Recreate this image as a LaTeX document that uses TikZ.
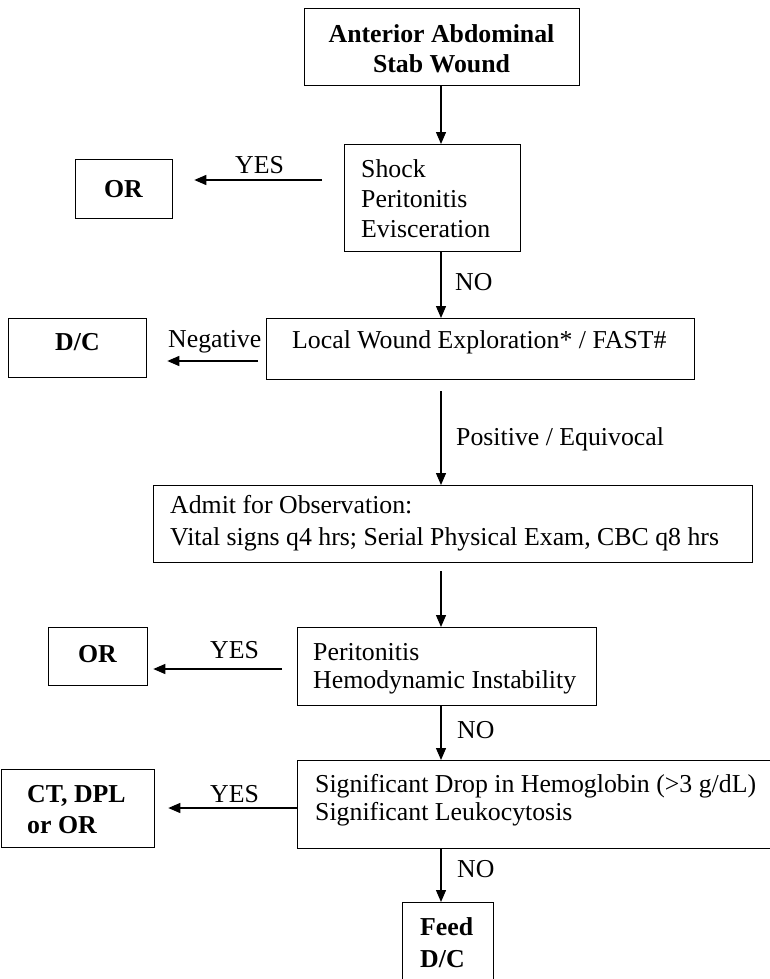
\documentclass[tikz,border=0pt]{standalone}
\usepackage{fontspec}
\setmainfont{Liberation Serif}
\usetikzlibrary{arrows.meta}
% font size with a chosen line spacing
\newcommand\fz[1]{\fontsize{25.8}{#1}\selectfont}
\begin{document}
\begin{tikzpicture}[x=1pt,y=-1pt,
  box/.style={draw, line width=1.3pt, rectangle, inner sep=0pt, anchor=north west},
  arr/.style={line width=1.3pt, -{Triangle[length=12pt,width=10pt]}},
  lab/.style={inner sep=0pt, anchor=base west, font={\fz{30}}},
  blab/.style={lab, font={\fz{30}\bfseries}},
  ml/.style={inner sep=0pt, anchor=north west, align=left, font={\fz{30}}},
]
\useasboundingbox (0,0) rectangle (770,979);
\fill[white] (0,0) rectangle (770,979);
\clip (0,0) rectangle (770,979);

% boxes
\node[box, minimum width=275pt, minimum height=77pt]  (start)  at (304,8)   {};
\node[box, minimum width=176pt, minimum height=107pt] (shock)  at (344,144) {};
\node[box, minimum width=97pt,  minimum height=59pt]  (or1)    at (75,159)  {};
\node[box, minimum width=138pt, minimum height=59pt]  (dc)     at (8,318)   {};
\node[box, minimum width=428pt, minimum height=61pt]  (local)  at (266,318) {};
\node[box, minimum width=599pt, minimum height=77pt]  (admit)  at (153,485) {};
\node[box, minimum width=99pt,  minimum height=58pt]  (or2)    at (48,627)  {};
\node[box, minimum width=299pt, minimum height=78pt]  (perit)  at (297,627) {};
\node[box, minimum width=153pt, minimum height=78pt]  (ct)     at (1,769)   {};
\node[box, minimum width=500pt, minimum height=88pt]  (signif) at (297,760) {};
\node[box, minimum width=91pt,  minimum height=110pt] (feed)   at (402,902) {};

% box texts
\node[ml, anchor=north, align=center, font={\fz{30}\bfseries}] (start-t) at (441.5,21)
  {\strut Anterior Abdominal\\\strut Stab Wound};
\node[ml] (shock-t) at (361,156) {\strut Shock\\\strut Peritonitis\\\strut Evisceration};
\node[blab, anchor=base] (or1-t) at (123.5,197) {OR};
\node[blab] (dc-t) at (55,350) {D/C};
\node[lab] (local-t) at (292,348) {Local Wound Exploration* / FAST\#};
\node[ml, font={\fz{32}}] (admit-t) at (170,490.6)
  {\strut Admit for Observation:\\\strut Vital signs q4 hrs; Serial Physical Exam, CBC q8 hrs};
\node[blab, anchor=base] (or2-t) at (97.5,662.5) {OR};
\node[ml, font={\fz{28}}] (perit-t) at (313,640.4) {\strut Peritonitis\\\strut Hemodynamic Instability};
\node[ml, font={\fz{28}}] (signif-t) at (315,772.4)
  {\strut Significant Drop in Hemoglobin (>3 g/dL)\\\strut Significant Leukocytosis};
\node[ml, font={\fz{31}\bfseries}] (ct-t) at (27,780.3) {\strut CT, DPL\\\strut or OR};
\node[ml, font={\fz{32}\bfseries}] (feed-t) at (420,912.6) {\strut Feed\\\strut D/C};

% connector labels
\node[lab] (yes1) at (235,173) {YES};
\node[lab] (no1) at (455,290) {NO};
\node[lab] (neg) at (168,347) {Negative};
\node[lab] (pos) at (456,445) {Positive / Equivocal};
\node[lab] (yes2) at (210,658) {YES};
\node[lab] (no2) at (457,738) {NO};
\node[lab] (yes3) at (210,802) {YES};
\node[lab] (no3) at (457,877) {NO};

% connector guide lines
\coordinate (spine) at (441,0);
\coordinate (h1) at (0,180);
\coordinate (h2) at (0,361);
\coordinate (h3) at (0,669);
\coordinate (h4) at (0,808);

% main vertical path
\draw[arr] (start.south -| spine) -- (shock.north -| spine);
\draw[arr] (shock.south -| spine) -- (local.north -| spine);
\draw[arr, shorten <=11pt] (local.south -| spine) -- (admit.north -| spine);
\draw[arr, shorten <=8pt] (admit.south -| spine) -- (perit.north -| spine);
\draw[arr] (perit.south -| spine) -- (signif.north -| spine);
\draw[arr] (signif.south -| spine) -- (feed.north -| spine);

% side exits
\draw[arr, shorten <=22pt, shorten >=21pt] (shock.west |- h1) -- (or1.east |- h1);
\draw[arr, shorten <=8pt, shorten >=20pt] (local.west |- h2) -- (dc.east |- h2);
\draw[arr, shorten <=15pt, shorten >=5pt] (perit.west |- h3) -- (or2.east |- h3);
\draw[arr, shorten >=13pt] (signif.west |- h4) -- (ct.east |- h4);
\end{tikzpicture}
\end{document}
